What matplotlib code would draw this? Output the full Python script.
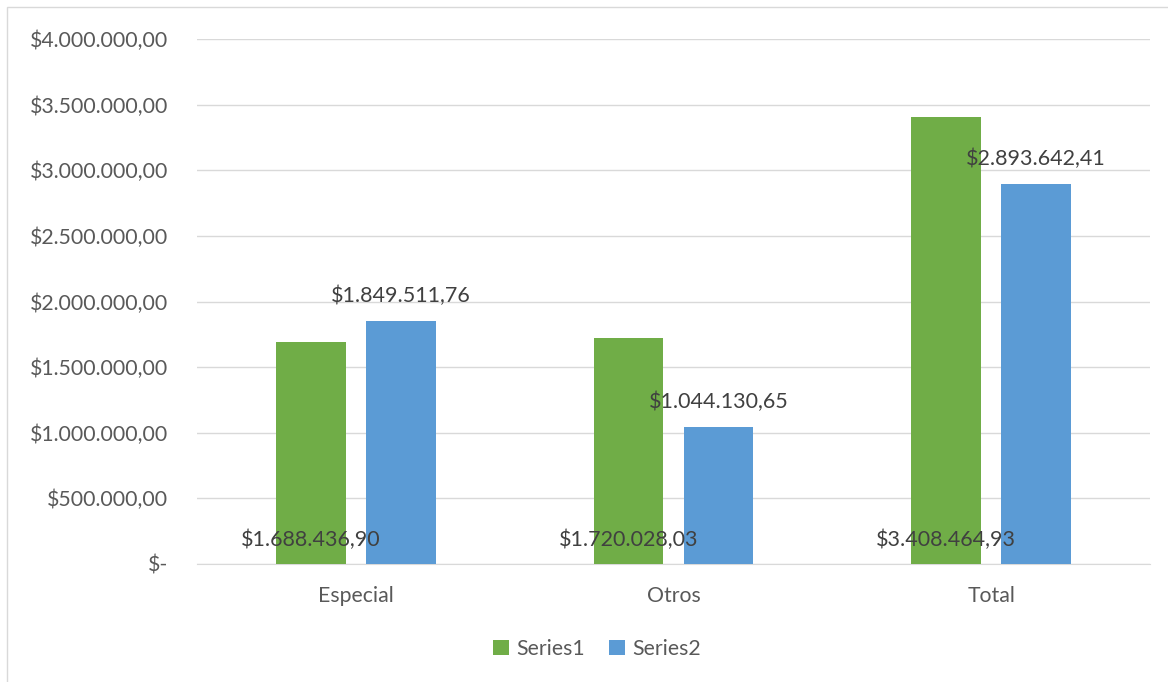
import matplotlib.pyplot as plt
import numpy as np
from matplotlib.patches import Rectangle

categories = ['Especial', 'Otros', 'Total']
series1 = [1688436.90, 1720028.03, 3408464.93]
series2 = [1849511.76, 1044130.65, 2893642.41]
yticks = [0, 500000, 1000000, 1500000, 2000000, 2500000, 3000000, 3500000, 4000000]

green = '#70AD47'
blue = '#5B9BD5'
plt.rcParams['font.family'] = ['Lato', 'DejaVu Sans']


def money(v):
    if v == 0:
        return '$-'
    s = f'{v:,.2f}'
    s = s.replace(',', 'X').replace('.', ',').replace('X', '.')
    return '$' + s


fig = plt.figure(figsize=(11.68, 6.82), dpi=100)
fig.patches.append(Rectangle((7 / 1168, -0.01), 1.05, 1 - 7 / 682 + 0.01,
                             transform=fig.transFigure, fill=False,
                             edgecolor='#D9D9D9', linewidth=1))
ax = fig.add_axes([197 / 1168, 1 - 564 / 682, (1150 - 197) / 1168, (564 - 39) / 682])

x = np.arange(len(categories))
w = 0.22
gap = 0.063
b1 = ax.bar(x - (w + gap) / 2, series1, w, color=green, zorder=3)
b2 = ax.bar(x + (w + gap) / 2, series2, w, color=blue, zorder=3)

for rect, v in zip(b1, series1):
    ax.text(rect.get_x() + rect.get_width() / 2, 180000, money(v),
            ha='center', va='center', fontsize=15.5, color='#404040', zorder=4)
for rect, v in zip(b2, series2):
    ax.text(rect.get_x() + rect.get_width() / 2, v + 190000, money(v),
            ha='center', va='center', fontsize=15.5, color='#404040', zorder=4)

ax.set_xlim(-0.5, 2.5)
ax.set_ylim(0, 4000000)
ax.set_yticks(yticks)
ax.set_yticklabels([money(v) for v in yticks])
ax.set_xticks(x)
ax.set_xticklabels(categories)
ax.tick_params(axis='both', length=0, labelsize=15.3, colors='#595959')
ax.tick_params(axis='y', pad=21)
ax.tick_params(axis='x', pad=16)
ax.grid(axis='y', color='#D9D9D9', linewidth=1, zorder=0)
for s in ['top', 'right', 'left']:
    ax.spines[s].set_visible(False)
ax.spines['bottom'].set_color('#D9D9D9')

ax.legend([b1, b2], ['Series1', 'Series2'], loc='center', bbox_to_anchor=(597 / 1168, 1 - 649 / 682),
          bbox_transform=fig.transFigure, ncol=2, frameon=False, fontsize=15.3,
          handlelength=0.75, handleheight=0.75, handletextpad=0.35, columnspacing=1.1,
          labelcolor='#595959')

fig.savefig('out.png', dpi=100, facecolor='white')
